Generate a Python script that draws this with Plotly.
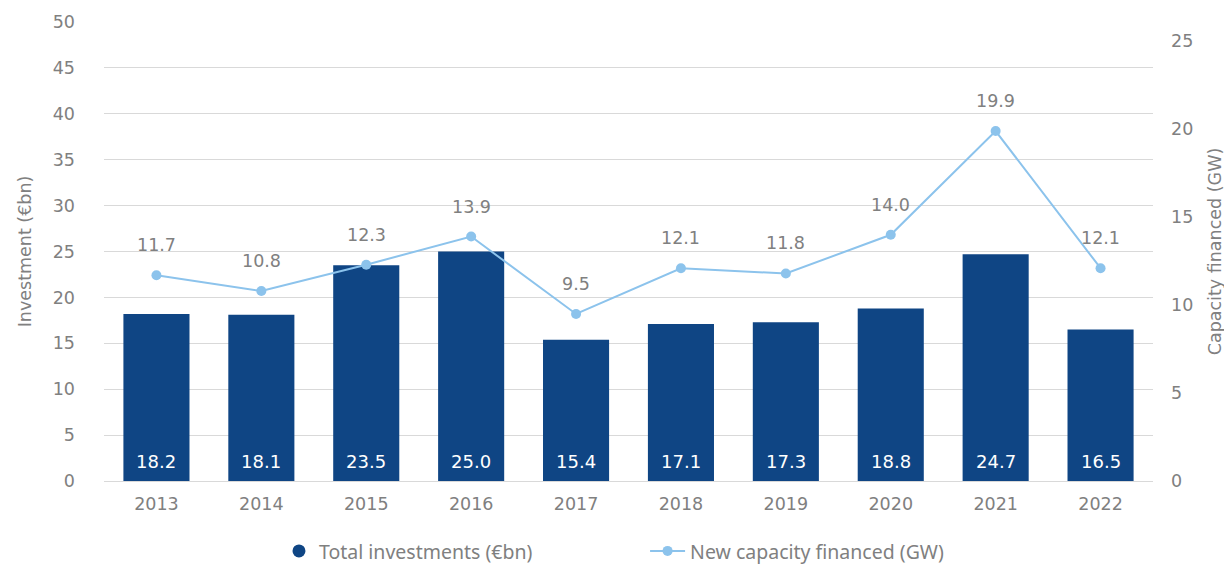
import plotly.graph_objects as go

years = ["2013", "2014", "2015", "2016", "2017", "2018", "2019", "2020", "2021", "2022"]
investment = [18.2, 18.1, 23.5, 25.0, 15.4, 17.1, 17.3, 18.8, 24.7, 16.5]
capacity = [11.7, 10.8, 12.3, 13.9, 9.5, 12.1, 11.8, 14.0, 19.9, 12.1]

BAR = "#0F4584"
LINE = "#8CC3EC"
GRAY = "#808080"
FONT = "DejaVu Sans"
FS = 17.5

fig = go.Figure()

fig.add_trace(go.Bar(
    x=years, y=investment, name="Total investments (€bn)",
    marker=dict(color=BAR, line=dict(width=0)),
    width=0.63,
    showlegend=False,
))

# legend entry for bars (circle symbol as in reference)
fig.add_trace(go.Scatter(
    x=[None], y=[None], mode="markers", name="Total investments (€bn)",
    marker=dict(color=BAR, size=13, symbol="circle"), legend="legend",
))

fig.add_trace(go.Scatter(
    x=years, y=capacity, name="New capacity financed (GW)", yaxis="y2",
    mode="lines+markers",
    line=dict(color=LINE, width=2),
    marker=dict(color=LINE, size=10),
    cliponaxis=False, legend="legend2",
))

annotations = []
for i, v in enumerate(investment):
    annotations.append(dict(x=i, y=0, xref="x", yref="y", text=f"{v:.1f}",
                            showarrow=False, yanchor="middle", yshift=20,
                            font=dict(color="white", size=18, family=FONT)))
for i, v in enumerate(capacity):
    annotations.append(dict(x=i, y=v, xref="x", yref="y2", text=f"{v:.1f}",
                            showarrow=False, yanchor="middle", yshift=30,
                            font=dict(color=GRAY, size=FS, family=FONT)))

LEG_FONT = dict(size=19.5, color=GRAY, family="Noto Sans")

fig.update_layout(
    width=1224, height=560,
    margin=dict(l=96, r=79, t=14, b=87, autoexpand=False),
    paper_bgcolor="white", plot_bgcolor="white",
    font=dict(family=FONT, color=GRAY, size=FS),
    annotations=annotations,
    xaxis=dict(
        type="category", range=[-0.5, len(years) - 0.5],
        showgrid=False, showline=False, ticks="",
        tickfont=dict(size=FS, color=GRAY), ticklabelstandoff=10, automargin=False,
    ),
    yaxis=dict(
        range=[0, 50], dtick=5, showgrid=True, gridcolor="#D9D9D9", gridwidth=1,
        zeroline=True, zerolinecolor="#D9D9D9", zerolinewidth=1,
        tickfont=dict(size=FS, color=GRAY), ticklabelstandoff=28, automargin=False,
        title=dict(text="Investment (€bn)", font=dict(size=FS, color=GRAY), standoff=16),
    ),
    yaxis2=dict(
        range=[0, 26.1], dtick=5, overlaying="y", side="right", showgrid=False,
        zeroline=False, tickfont=dict(size=FS, color=GRAY), ticklabelstandoff=17,
        automargin=False,
        title=dict(text="Capacity financed (GW)", font=dict(size=FS, color=GRAY), standoff=16),
    ),
    legend=dict(
        orientation="h", x=0.1668, xanchor="left", y=-0.153, yanchor="middle",
        font=LEG_FONT,
    ),
    legend2=dict(
        orientation="h", x=0.5158, xanchor="left", y=-0.153, yanchor="middle",
        font=LEG_FONT, itemwidth=35,
    ),
)

fig.write_html("out.html")
